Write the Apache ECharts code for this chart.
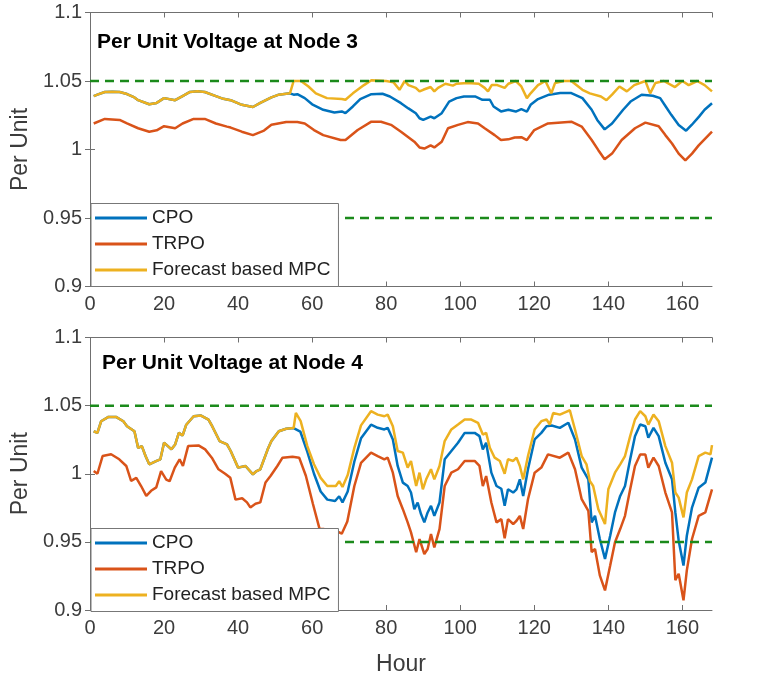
<!DOCTYPE html>
<html>
<head>
<meta charset="utf-8">
<title>Per Unit Voltage</title>
<script src="https://cdn.jsdelivr.net/npm/echarts/dist/echarts.min.js"></script>
<style>
  html, body { margin: 0; padding: 0; background: #fff; }
  #chart { width: 769px; height: 677px; }
</style>
</head>
<body>
<div id="chart"></div>
<script>
const chart = echarts.init(document.getElementById("chart"));

const hourRange = [0, 168];
const voltRange = [0.9, 1.1];
const limits = [0.95, 1.05];
const seriesNames = ["CPO", "TRPO", "Forecast based MPC"];
const titles = ["Per Unit Voltage at Node 3", "Per Unit Voltage at Node 4"];

// node 3: CPO and MPC are the same curve up to about hour 54
const node3Shared = [
  [1, 1.039], [2, 1.040], [4, 1.042], [6, 1.0422], [8, 1.042], [10, 1.0405],
  [12, 1.038], [13, 1.036], [16, 1.033], [18, 1.034], [20, 1.0375], [23, 1.036],
  [25, 1.039], [27, 1.042], [29, 1.0425], [31, 1.042], [34, 1.039], [36, 1.037],
  [38, 1.036], [41, 1.0326], [44, 1.031], [46, 1.034], [49, 1.038], [51, 1.040],
  [54, 1.041],
];
const node3Cpo = node3Shared.concat([
  [55, 1.040], [56, 1.0404], [58, 1.0375], [60, 1.033], [63, 1.029], [66, 1.027],
  [68, 1.0278], [69, 1.0265], [71, 1.0314], [73, 1.0368], [76, 1.0404], [79, 1.0407],
  [81, 1.0387], [84, 1.0338], [86, 1.030], [88, 1.0265], [89, 1.0228], [90, 1.0216],
  [92, 1.024], [93, 1.0228], [95, 1.0265], [97, 1.035], [99, 1.0375], [101, 1.0387],
  [104, 1.0387], [106, 1.0363], [108, 1.0363], [109, 1.0314], [111, 1.0278], [113, 1.029],
  [115, 1.0277], [116.5, 1.0294], [118, 1.0277], [119, 1.0326], [121, 1.0368], [124, 1.040],
  [127, 1.0412], [130, 1.0412], [133, 1.0375], [135.5, 1.029], [137, 1.0216], [139, 1.0147],
  [141, 1.019], [144, 1.029], [146, 1.035], [149, 1.040], [152, 1.0392], [154, 1.0375],
  [155.5, 1.0314], [157, 1.0253], [159, 1.0179], [161, 1.0137], [162.5, 1.0179], [164.5, 1.024],
  [166, 1.029], [168, 1.0338],
]);
const node3Mpc = node3Shared.concat([
  [55, 1.050], [57, 1.050], [59, 1.046], [61, 1.041], [64, 1.0375], [68, 1.0368],
  [69, 1.0363], [71, 1.041], [74, 1.047], [76, 1.0505], [80, 1.050], [82, 1.049],
  [83.6, 1.0436], [85, 1.050], [86, 1.047], [88, 1.045], [89, 1.0424], [90, 1.0436],
  [92, 1.0456], [93, 1.0424], [94, 1.045], [96, 1.048], [98, 1.0466], [99, 1.048],
  [102, 1.0485], [105, 1.048], [106.6, 1.045], [107.5, 1.0424], [108.5, 1.047], [110, 1.047],
  [112, 1.045], [113, 1.048], [115, 1.050], [116.5, 1.046], [118, 1.0375], [119, 1.041],
  [121, 1.047], [123, 1.050], [124.6, 1.041], [125.6, 1.0485], [128, 1.050], [130, 1.050],
  [133, 1.0436], [135, 1.041], [138, 1.0387], [139.5, 1.036], [141, 1.040], [143, 1.046],
  [145, 1.0424], [147, 1.047], [150, 1.050], [151.3, 1.041], [152.7, 1.0485], [155, 1.050],
  [158, 1.0456], [160, 1.050], [161.7, 1.047], [164, 1.050], [166, 1.047], [168, 1.0424],
]);
const node3Trpo = [
  [1, 1.019], [4, 1.0223], [8, 1.0216], [10, 1.019], [13, 1.0155], [16, 1.013],
  [18, 1.014], [20, 1.017], [23, 1.0155], [25, 1.019], [28, 1.0223], [31, 1.0223],
  [34, 1.019], [37, 1.0167], [38, 1.016], [41, 1.013], [44, 1.0105], [47, 1.0138],
  [49, 1.018], [53, 1.020], [56, 1.020], [58, 1.019], [60.5, 1.0142], [63, 1.0105],
  [67.7, 1.0069], [69, 1.0069], [72.3, 1.0142], [76, 1.0203], [78.6, 1.0203], [81.3, 1.018],
  [84, 1.013], [87.6, 1.0057], [89, 1.0015], [90.3, 1.0007], [92, 1.003], [93, 1.0015],
  [95, 1.0057], [96.7, 1.0155], [99.4, 1.018], [102, 1.020], [104.8, 1.019], [106.6, 1.0155],
  [109.3, 1.0105], [111, 1.0069], [113, 1.0074], [114.7, 1.0088], [116.5, 1.009], [118, 1.0069],
  [120, 1.0142], [123.7, 1.019], [130, 1.0203], [132.8, 1.0167], [135.5, 1.0069], [137.3, 0.9995],
  [139, 0.9929], [141, 0.997], [143.6, 1.0069], [147.2, 1.0155], [150, 1.0196], [153.6, 1.017],
  [155.4, 1.0105], [157.2, 1.0044], [159, 0.997], [160.8, 0.992], [162.6, 0.997], [164.4, 1.003],
  [168, 1.013],
];

// node 4: CPO and MPC are the same curve up to about hour 55
const node4Shared = [
  [1, 1.0312], [2, 1.030], [3, 1.0385], [5, 1.0417], [7, 1.0417], [9, 1.0385],
  [10, 1.0349], [12, 1.0312], [13, 1.019], [14, 1.0203], [15, 1.013], [16, 1.0069],
  [18, 1.0094], [19, 1.0106], [20, 1.0228], [22, 1.0179], [23, 1.0215], [24, 1.030],
  [25, 1.028], [26, 1.036], [28, 1.0422], [30, 1.0427], [32, 1.0398], [33, 1.0349],
  [35, 1.024], [37, 1.0215], [38, 1.0167], [40, 1.0045], [42, 1.0057], [44, 0.9996],
  [45, 1.002], [46, 1.0033], [48, 1.0179], [49, 1.024], [51, 1.0312], [53, 1.033],
  [55, 1.0335],
];
const node4Cpo = node4Shared.concat([
  [56.8, 1.031], [58.7, 1.016], [60.5, 1.000], [62.3, 0.987], [64.1, 0.981], [66.2, 0.980],
  [67.3, 0.9835], [68.2, 0.979], [69.6, 0.987], [71.4, 1.009], [73.2, 1.026], [75.9, 1.036],
  [77.7, 1.0337], [79.5, 1.0325], [80.4, 1.0337], [81.8, 1.0252], [83.1, 1.0057], [84.5, 0.9935],
  [85.8, 0.991], [86.7, 0.9862], [87.6, 0.974], [88.5, 0.9789], [89.4, 0.9704], [90.3, 0.9643],
  [91.2, 0.9716], [92.1, 0.9764], [93, 0.9691], [94.4, 0.9789], [95.8, 1.0106], [97.6, 1.0167],
  [99.4, 1.0228], [101.2, 1.030], [103.9, 1.030], [105.2, 1.0276], [106.1, 1.0179], [107, 1.0228],
  [108.4, 1.0008], [109.8, 0.991], [111.1, 0.989], [112, 0.9765], [112.9, 0.9886], [114.3, 0.9862],
  [115.2, 0.9886], [116.1, 0.9959], [117, 0.9837], [118.3, 1.0033], [120.1, 1.0252], [121.9, 1.030],
  [123.3, 1.0349], [124.7, 1.0354], [126.9, 1.0337], [129.2, 1.0374], [131, 1.0252], [132.8, 1.0045],
  [134.6, 0.9959], [135.5, 0.9643], [136.4, 0.9691], [137.7, 0.9521], [139.1, 0.9375], [140.5, 0.9545],
  [141.8, 0.9716], [143.2, 0.9837], [144.5, 0.991], [145.9, 1.0106], [147.2, 1.0276], [148.6, 1.0361],
  [150, 1.0349], [150.8, 1.0264], [152.2, 1.0337], [153.6, 1.0276], [155.4, 1.0081], [157.2, 0.9959],
  [158.1, 0.9716], [159, 0.9509], [160.3, 0.9326], [161.2, 0.9545], [162.6, 0.9752], [164.4, 0.9898],
  [166.2, 0.9935], [168, 1.0118],
]);
const node4Mpc = node4Shared.concat([
  [55.6, 1.0446], [56.9, 1.0386], [58.7, 1.0203], [60.5, 1.007], [62.3, 0.997], [64.1, 0.991],
  [66.4, 0.991], [67.3, 0.9946], [68.2, 0.9903], [69.6, 0.999], [71.4, 1.019], [73.2, 1.0355],
  [75.9, 1.0459], [77.7, 1.0434], [79.5, 1.0422], [80.4, 1.0434], [81.8, 1.0349], [83.1, 1.0167],
  [84.5, 1.0155], [85.8, 1.0045], [86.7, 1.0094], [88.1, 0.991], [89, 1.0008], [89.9, 0.9886],
  [90.8, 0.9959], [92.1, 1.0033], [93, 0.9959], [94.4, 1.0057], [95.8, 1.024], [97.6, 1.0325],
  [99.4, 1.0361], [101.2, 1.0398], [103, 1.0398], [104.8, 1.0374], [106.1, 1.0288], [107, 1.030],
  [108, 1.0191], [109.3, 1.0118], [110.7, 1.0094], [112, 1.000], [112.9, 1.0106], [114.3, 1.0094],
  [115.2, 1.0118], [116.1, 1.0057], [117, 0.9959], [118.3, 1.013], [120.1, 1.0325], [121.9, 1.0386],
  [123.3, 1.0398], [124.2, 1.0361], [125.1, 1.0446], [126.9, 1.0434], [128.3, 1.0451], [129.6, 1.0466],
  [131, 1.0325], [132.8, 1.013], [134.1, 1.0069], [135, 0.9947], [135.9, 0.991], [137.3, 0.974],
  [139.1, 0.9631], [140, 0.9886], [141.8, 1.0008], [143.2, 1.0069], [144.5, 1.013], [145.9, 1.0276],
  [147.2, 1.0398], [148.6, 1.0459], [150, 1.0422], [150.8, 1.0361], [152.2, 1.0434], [153.6, 1.0386],
  [155.4, 1.0203], [157.2, 1.0081], [158.1, 0.9862], [159, 0.9825], [160.3, 0.968], [161.2, 0.9862],
  [162.6, 0.9959], [164.4, 1.013], [166.2, 1.0155], [167.6, 1.0142], [168, 1.021],
]);
const node4Trpo = [
  [1, 1.002], [2, 1.000], [3.4, 1.013], [5.7, 1.0143], [7.9, 1.0106], [9.8, 1.0057],
  [11.1, 0.9948], [12.5, 0.997], [13.8, 0.991], [15.2, 0.9838], [16.5, 0.9875], [17.9, 0.990],
  [19.2, 1.002], [20.6, 0.9957], [21.5, 0.9945], [22.9, 1.0045], [24.2, 1.0106], [25.1, 1.0057],
  [26.5, 1.0203], [29.3, 1.0208], [31.1, 1.0179], [32.9, 1.0118], [34.7, 1.0033], [36.5, 1.000],
  [37.9, 0.997], [39.3, 0.981], [41.1, 0.982], [42.4, 0.979], [43.3, 0.9753], [44.7, 0.978],
  [46, 0.979], [47.4, 0.9936], [48.8, 0.9985], [50.6, 1.0057], [52, 1.0118], [54.7, 1.0125],
  [56.5, 1.0118], [58.3, 0.9985], [60.2, 0.978], [62, 0.9595], [63.2, 0.9594], [64.5, 0.955],
  [66.5, 0.958], [68, 0.956], [69.5, 0.965], [71.4, 0.991], [73.2, 1.008], [75.9, 1.0155],
  [77.7, 1.013], [79.5, 1.0106], [80.4, 1.0118], [81.8, 1.0008], [83.1, 0.9837], [84.5, 0.974],
  [85.8, 0.9643], [86.7, 0.957], [88.1, 0.9424], [89, 0.9521], [90.3, 0.9411], [91.2, 0.9448],
  [92.1, 0.9558], [93, 0.946], [94.4, 0.9594], [95.8, 0.991], [97.6, 1.0008], [99.4, 1.0033],
  [101.2, 1.0094], [103.9, 1.0094], [105.2, 1.0057], [106.1, 0.991], [107, 0.9983], [108.4, 0.9789],
  [109.8, 0.9643], [111.1, 0.9667], [112, 0.9527], [112.9, 0.9667], [114.3, 0.9631], [115.2, 0.9655],
  [116.1, 0.9691], [117, 0.9594], [118.3, 0.9813], [120.1, 1.0008], [121.9, 1.0045], [123.7, 1.0142],
  [126.9, 1.0118], [129.2, 1.0155], [131, 1.0033], [132.8, 0.9813], [134.6, 0.9728], [135.5, 0.9424],
  [136.4, 0.9448], [137.7, 0.9254], [139.1, 0.9144], [140.5, 0.9326], [141.8, 0.9497], [143.2, 0.9594],
  [144.5, 0.9691], [145.9, 0.9886], [147.2, 1.0057], [148.6, 1.0142], [150, 1.0142], [150.8, 1.0045],
  [152.2, 1.0118], [153.6, 1.0057], [155.4, 0.9862], [157.2, 0.9716], [158.1, 0.9218], [159, 0.9266],
  [160.3, 0.9071], [161.2, 0.9291], [162.6, 0.9521], [164.4, 0.9691], [166.2, 0.9716], [168, 0.9886],
];

const nodeData = [
  [node3Cpo, node3Trpo, node3Mpc],
  [node4Cpo, node4Trpo, node4Mpc],
];

const colors = ["#0072BD", "#D95319", "#EDB120"];
const limitColor = "#1b8a1b";
const axisColor = "#707070";
const labelColor = "#3c3c3c";
const font = '"Liberation Sans", Arial, Helvetica, sans-serif';

const gridTops = [12.5, 337.5];
const gridHeight = 274;
const titleTops = [31.5, 353];
const titleLefts = [97, 102];

const grids = [];
const xAxes = [];
const yAxes = [];
const series = [];
const titleList = [];
const legends = [];

gridTops.forEach(function (top, i) {
  grids.push({ left: 90, right: 57, top: top, height: gridHeight });

  // bottom + top x axes (box)
  xAxes.push({
    type: "value",
    gridIndex: i,
    position: "bottom",
    min: hourRange[0],
    max: hourRange[1],
    interval: 20,
    axisLine: { show: true, lineStyle: { color: axisColor, width: 1 } },
    axisTick: { show: true, inside: true, length: 5, lineStyle: { color: axisColor } },
    axisLabel: {
      fontSize: 20,
      color: labelColor,
      margin: 8,
      fontFamily: font,
      showMaxLabel: false,
    },
    splitLine: { show: false },
    name: i === 1 ? "Hour" : "",
    nameLocation: "middle",
    nameGap: 43,
    nameTextStyle: { fontSize: 23, color: labelColor, fontFamily: font },
  });
  xAxes.push({
    type: "value",
    gridIndex: i,
    position: "top",
    min: hourRange[0],
    max: hourRange[1],
    interval: 20,
    axisLine: { show: true, lineStyle: { color: axisColor, width: 1 } },
    axisTick: { show: true, inside: true, length: 5, lineStyle: { color: axisColor } },
    axisLabel: { show: false },
    splitLine: { show: false },
  });

  // left + right y axes (box)
  yAxes.push({
    type: "value",
    gridIndex: i,
    position: "left",
    min: voltRange[0],
    max: voltRange[1],
    interval: 0.05,
    axisLine: { show: true, lineStyle: { color: axisColor, width: 1 } },
    axisTick: { show: true, inside: true, length: 5, lineStyle: { color: axisColor } },
    axisLabel: { fontSize: 20, color: labelColor, margin: 8, fontFamily: font },
    splitLine: { show: false },
    name: "Per Unit",
    nameLocation: "middle",
    nameGap: 52,
    nameTextStyle: { fontSize: 23, color: labelColor, fontFamily: font },
  });
  yAxes.push({
    type: "value",
    gridIndex: i,
    position: "right",
    min: voltRange[0],
    max: voltRange[1],
    interval: 0.05,
    axisLine: { show: true, lineStyle: { color: axisColor, width: 1 } },
    axisTick: { show: true, inside: true, length: 5, lineStyle: { color: axisColor } },
    axisLabel: { show: false },
    splitLine: { show: false },
  });

  nodeData[i].forEach(function (points, k) {
    series.push({
      name: seriesNames[k],
      type: "line",
      xAxisIndex: i * 2,
      yAxisIndex: i * 2,
      data: points,
      symbol: "none",
      color: colors[k],
      lineStyle: { width: 2.5, color: colors[k] },
      itemStyle: { color: colors[k] },
      silent: true,
    });
  });

  limits.forEach(function (lim) {
    series.push({
      type: "line",
      xAxisIndex: i * 2,
      yAxisIndex: i * 2,
      data: [[hourRange[0], lim], [hourRange[1], lim]],
      symbol: "none",
      lineStyle: { width: 2.5, color: limitColor, type: [9, 6] },
      silent: true,
    });
  });

  titleList.push({
    text: titles[i],
    left: titleLefts[i],
    top: titleTops[i],
    padding: 0,
    textStyle: { fontSize: 21, fontWeight: "bold", color: "#000", fontFamily: font },
  });

  legends.push({
    data: seriesNames,
    orient: "vertical",
    left: 91,
    top: top + gridHeight - 83,
    icon: "rect",
    itemWidth: 52,
    itemHeight: 3,
    itemGap: 7,
    padding: [5, 8, 7, 4],
    backgroundColor: "#fff",
    borderColor: "#777",
    borderWidth: 1,
    borderRadius: 0,
    selectedMode: false,
    textStyle: { fontSize: 19, lineHeight: 19, color: "#222", fontFamily: font },
  });
});

chart.setOption({
  animation: false,
  backgroundColor: "#fff",
  title: titleList,
  legend: legends,
  grid: grids,
  xAxis: xAxes,
  yAxis: yAxes,
  series: series,
});
</script>
</body>
</html>
